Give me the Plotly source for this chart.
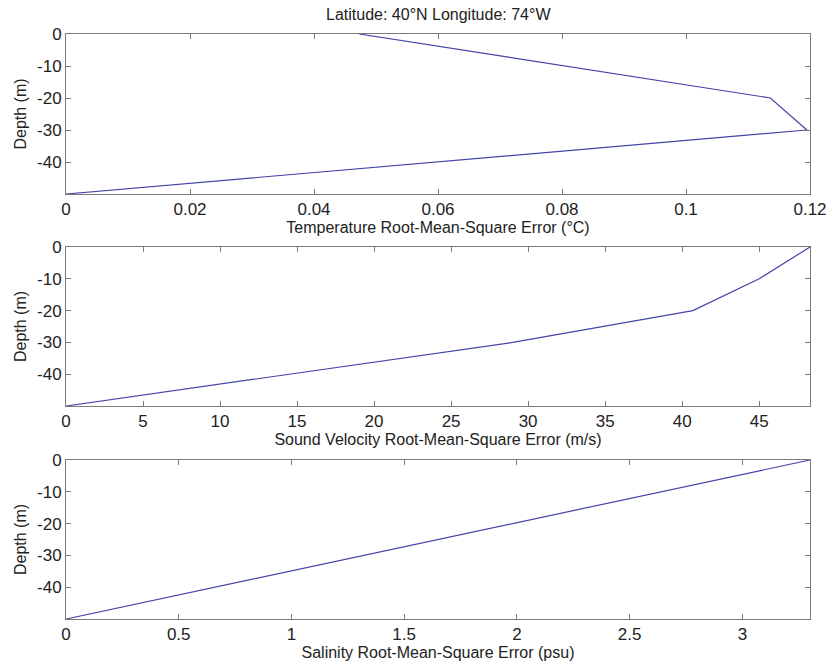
import plotly.graph_objects as go

# ---- data ----
temp_depth = [0, -20, -30, -50]
temp_rmse = [0.0473, 0.1136, 0.1195, 0.0]

sv_depth = [0, -10, -20, -30, -50]
sv_rmse = [48.3, 45.0, 40.7, 29.0, 0.0]

sal_depth = [0, -50]
sal_rmse = [3.3, 0.0]

depth_ticks = [0, -10, -20, -30, -40]
depth_ticktext = ["0", "-10", "-20", "-30", "-40"]

temp_ticks = [0, 0.02, 0.04, 0.06, 0.08, 0.1, 0.12]
temp_ticktext = ["0", "0.02", "0.04", "0.06", "0.08", "0.1", "0.12"]
sv_ticks = [0, 5, 10, 15, 20, 25, 30, 35, 40, 45]
sv_ticktext = [str(v) for v in sv_ticks]
sal_ticks = [0, 0.5, 1, 1.5, 2, 2.5, 3]
sal_ticktext = ["0", "0.5", "1", "1.5", "2", "2.5", "3"]

title_text = "Latitude: 40°N Longitude: 74°W"
x_titles = ["Temperature Root-Mean-Square Error (°C)",
            "Sound Velocity Root-Mean-Square Error (m/s)",
            "Salinity Root-Mean-Square Error (psu)"]
y_title = "Depth (m)"

W, H = 831, 672
FONT = "Liberation Sans, Arial, sans-serif"
LINE_COLOR = "#4444aa"
AXIS_COLOR = "#7a7a7a"
TEXT_COLOR = "#222222"

def ydom(top_px, bot_px):
    return [1 - bot_px / H, 1 - top_px / H]

domains = [ydom(34, 194), ydom(247, 406), ydom(460, 619)]

fig = go.Figure()
series = [(temp_rmse, temp_depth), (sv_rmse, sv_depth), (sal_rmse, sal_depth)]
for i, (xv, yv) in enumerate(series):
    sfx = "" if i == 0 else str(i + 1)
    fig.add_trace(go.Scatter(x=xv, y=yv, mode="lines",
                             line=dict(color=LINE_COLOR, width=1.2),
                             xaxis="x" + sfx, yaxis="y" + sfx,
                             showlegend=False, hoverinfo="x+y"))

x_ranges = [[0, 0.12], [0, max(sv_rmse)], [0, max(sal_rmse)]]
x_tv = [(temp_ticks, temp_ticktext), (sv_ticks, sv_ticktext), (sal_ticks, sal_ticktext)]

common = dict(showline=True, linecolor=AXIS_COLOR, linewidth=1,
              mirror="ticks", ticks="inside", ticklen=5, tickcolor=AXIS_COLOR,
              showgrid=False, zeroline=False, automargin=False,
              tickfont=dict(family=FONT, size=17, color=TEXT_COLOR))

layout = dict(width=W, height=H,
              margin=dict(l=66, r=W - 810, t=0, b=0, autoexpand=False),
              paper_bgcolor="white", plot_bgcolor="white",
              font=dict(family=FONT, color=TEXT_COLOR),
              showlegend=False)

for i in range(3):
    sfx = "" if i == 0 else str(i + 1)
    layout["xaxis" + sfx] = dict(common, domain=[0, 1], anchor="y" + sfx,
                                 range=x_ranges[i],
                                 tickvals=x_tv[i][0], ticktext=x_tv[i][1],
                                 title=dict(text=x_titles[i],
                                            font=dict(family=FONT, size=16, color=TEXT_COLOR),
                                            standoff=2))
    layout["yaxis" + sfx] = dict(common, domain=domains[i], anchor="x" + sfx,
                                 range=[-50, 0],
                                 tickvals=depth_ticks, ticktext=depth_ticktext,
                                 title=dict(text=y_title,
                                            font=dict(family=FONT, size=16, color=TEXT_COLOR),
                                            standoff=6))

fig.update_layout(**layout)
fig.add_annotation(text=title_text, xref="paper", yref="paper",
                   x=0.5, y=1 - 14 / H, xanchor="center", yanchor="middle",
                   showarrow=False,
                   font=dict(family=FONT, size=16, color=TEXT_COLOR))

fig.write_html("out.html",
               config={"displayModeBar": False},
               post_script="document.body.style.margin='0';"
                           "document.body.style.overflow='hidden';")
